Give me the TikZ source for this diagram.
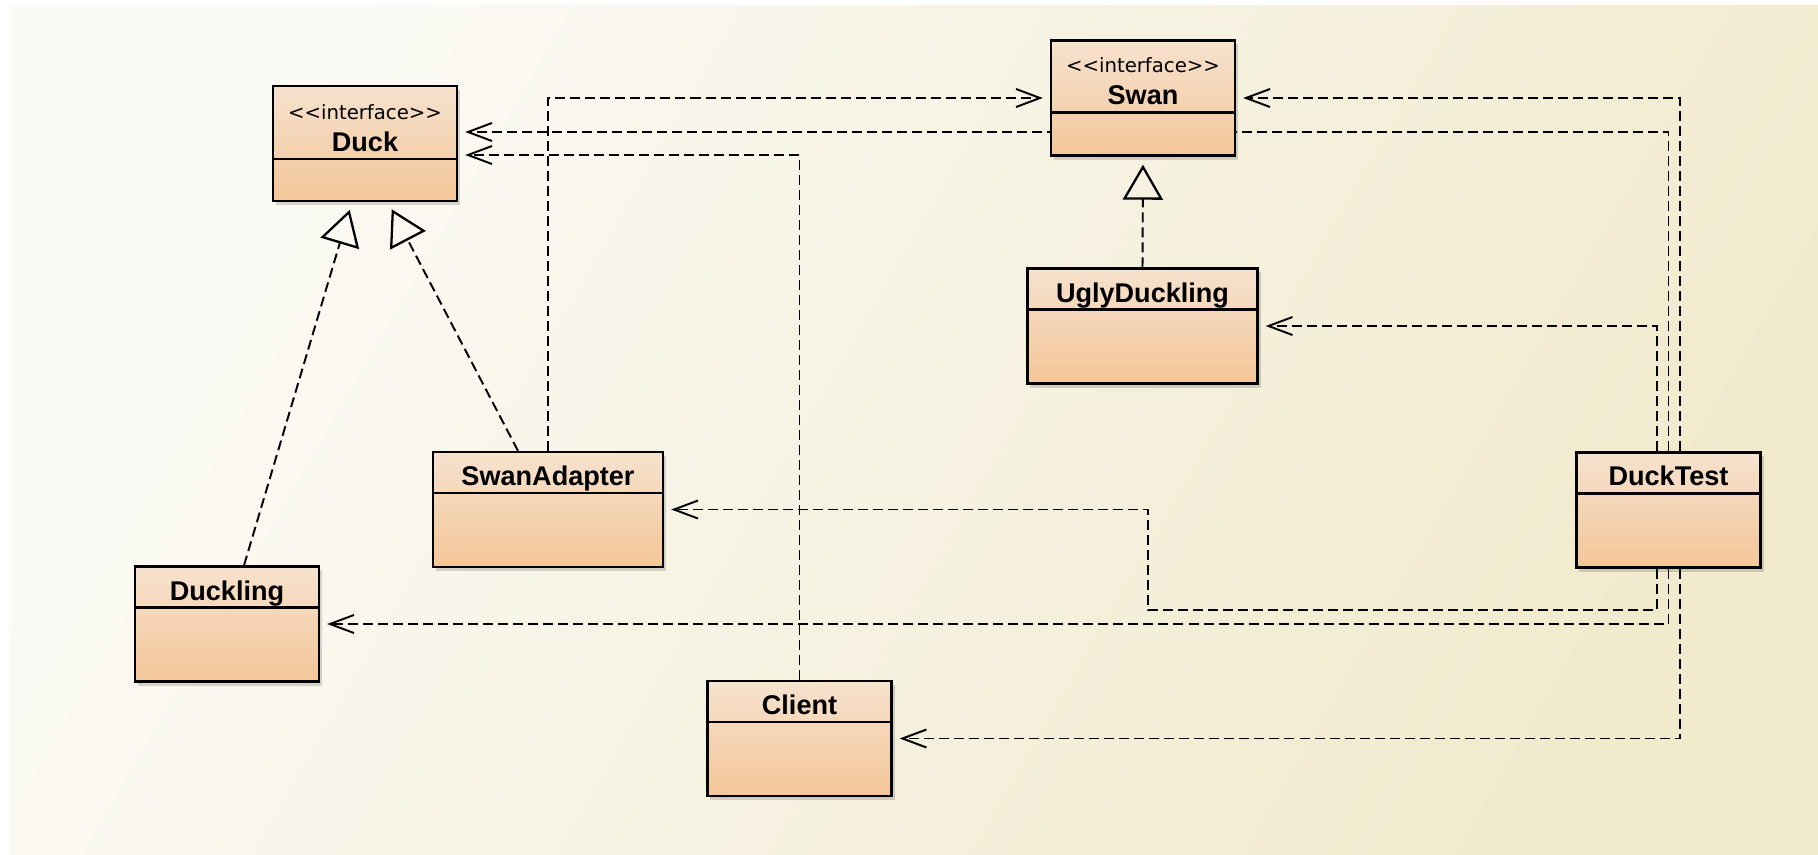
\documentclass[tikz,border=0pt]{standalone}
\usepackage{fontspec}
\setmainfont{Liberation Sans}
\newfontfamily\stereofont{DejaVu Sans}
\usetikzlibrary{arrows.meta,shadows}
\definecolor{bglight}{RGB}{251,250,245}
\definecolor{bgmid}{RGB}{246,242,226}
\definecolor{bgdark}{RGB}{242,234,205}
\definecolor{boxtop}{RGB}{246,226,206}
\definecolor{boxbot}{RGB}{243,198,152}
\pgfdeclarelayer{back}
\pgfdeclarelayer{lines}
\pgfsetlayers{back,lines,main}
\begin{document}
\begin{tikzpicture}[x=0.01cm, y=-0.01cm,
    classbox/.style={draw, line width=0.65pt, inner sep=0pt, minimum width=1.84cm, minimum height=1.15cm,
        top color=boxtop, bottom color=boxbot,
        drop shadow={shadow xshift=0.03cm, shadow yshift=-0.04cm, fill=black!70, opacity=0.22}},
    widebox/.style={minimum width=2.30cm},
    classhead/.style={draw, line width=0.65pt, inner sep=0pt, minimum width=1.84cm, minimum height=0.41cm, anchor=north},
    stereotype/.style={anchor=base, inner sep=0pt, font=\stereofont\fontsize{5.6}{6}\selectfont},
    classname/.style={anchor=base, inner sep=0pt, font=\fontsize{7.7}{9}\selectfont\bfseries},
    dep/.style={line width=0.55pt, dash pattern=on 0.1cm off 0.05cm,
        -{Straight Barb[length=0.24cm, width=0.18cm]}, shorten >=0.07cm},
    realize/.style={line width=0.55pt, dash pattern=on 0.1cm off 0.05cm,
        -{Triangle[open, length=0.35cm, width=0.4cm, line width=0.65pt]}, shorten >=0.08cm}]
    \useasboundingbox (0,0) rectangle (1818,854);
    \begin{pgfonlayer}{back}
        \fill[white] (0,0) rectangle (1818,854);
        \shade[top color=bglight, bottom color=bgdark, middle color=bgmid, shading angle=60] (9,5) rectangle (1818,854);
    \end{pgfonlayer}

    % interfaces
    \node[classbox] (duck) at (365,143.5) {};
    \node[classhead, minimum height=0.73cm] (duck-h) at (duck.north) {};
    \node[stereotype] (duck-s) at ([yshift=-0.345cm]duck.north) {<<interface>>};
    \node[classname] (duck-n) at ([yshift=-0.665cm]duck.north) {Duck};

    \node[classbox] (swan) at (1143,98) {};
    \node[classhead, minimum height=0.72cm] (swan-h) at (swan.north) {};
    \node[stereotype] (swan-s) at ([yshift=-0.33cm]swan.north) {<<interface>>};
    \node[classname] (swan-n) at ([yshift=-0.655cm]swan.north) {Swan};

    % classes
    \node[classbox, widebox] (ugly) at (1142.5,326) {};
    \node[classhead, widebox] (ugly-h) at (ugly.north) {};
    \node[classname] (ugly-n) at ([yshift=-0.35cm]ugly.north) {UglyDuckling};

    \node[classbox, widebox] (swanad) at (548,509.5) {};
    \node[classhead, widebox] (swanad-h) at (swanad.north) {};
    \node[classname] (swanad-n) at ([yshift=-0.345cm]swanad.north) {SwanAdapter};

    \node[classbox] (duckling) at (227,624) {};
    \node[classhead] (duckling-h) at (duckling.north) {};
    \node[classname] (duckling-n) at ([yshift=-0.35cm]duckling.north) {Duckling};

    \node[classbox] (client) at (799.5,738.5) {};
    \node[classhead] (client-h) at (client.north) {};
    \node[classname] (client-n) at ([yshift=-0.35cm]client.north) {Client};

    \node[classbox] (ducktest) at (1668.5,510) {};
    \node[classhead] (ducktest-h) at (ducktest.north) {};
    \node[classname] (ducktest-n) at ([yshift=-0.34cm]ducktest.north) {DuckTest};

    \begin{pgfonlayer}{lines}
        \draw[realize] ([xshift=0.17cm]duckling.north) -- ([xshift=-0.13cm]duck.south);
        \draw[realize] ([xshift=-0.30cm]swanad.north) -- ([xshift=0.23cm]duck.south);
        \draw[realize] (ugly.north) -- (swan.south);

        \draw[dep] (swanad.north) |- (swan.west);
        \draw[dep] (client.north) |- ([yshift=-0.115cm]duck.east);
        \draw[dep] (ducktest.north) |- ([yshift=0.115cm]duck.east);
        \draw[dep] ([xshift=0.115cm]ducktest.north) |- (swan.east);
        \draw[dep] ([xshift=-0.115cm]ducktest.north) |- (ugly.east);
        \coordinate (jog) at (1148,610);
        \draw[dep] ([xshift=-0.115cm]ducktest.south) |- (jog) |- (swanad.east);
        \draw[dep] (ducktest.south) |- (duckling.east);
        \draw[dep] ([xshift=0.115cm]ducktest.south) |- (client.east);
    \end{pgfonlayer}
\end{tikzpicture}
\end{document}
